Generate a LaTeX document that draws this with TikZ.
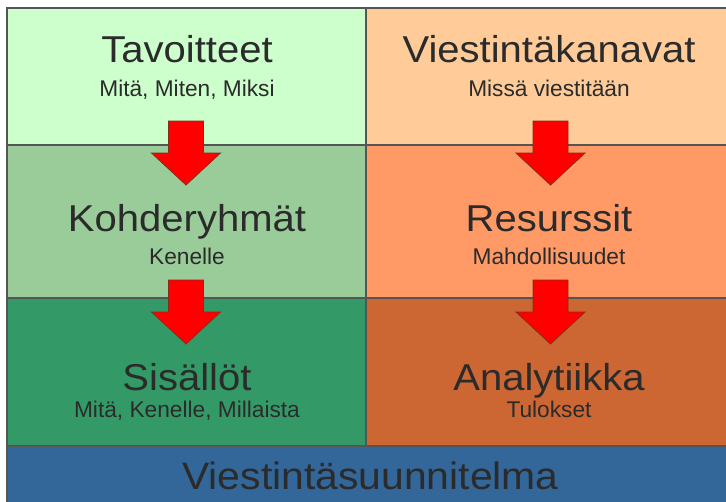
\documentclass[tikz,border=0pt]{standalone}
\usepackage{fontspec}
\setmainfont{Liberation Sans}
\newfontfamily\widesans[FakeStretch=1.07]{Liberation Sans}
\definecolor{greenA}{HTML}{CCFFCC}
\definecolor{greenB}{HTML}{99CC99}
\definecolor{greenC}{HTML}{339966}
\definecolor{orangeA}{HTML}{FFCC99}
\definecolor{orangeB}{HTML}{FF9966}
\definecolor{orangeC}{HTML}{CC6633}
\definecolor{planblue}{HTML}{336699}
\definecolor{gridline}{HTML}{555555}
\definecolor{ink}{HTML}{2B2B2B}
\definecolor{arrowedge}{HTML}{8A2A1A}
\begin{document}
\begin{tikzpicture}[x=1pt,y=-1pt,
  cell/.style={draw=gridline, line width=1.2pt},
  heading/.style={font=\widesans\fontsize{37.4}{37.4}\selectfont, text=ink, anchor=base, inner sep=0pt},
  subline/.style={font=\fontsize{22.7}{22.7}\selectfont, text=ink, anchor=base, inner sep=0pt},
  plan/.style={font=\widesans\fontsize{38.2}{38.2}\selectfont, text=ink, anchor=base, inner sep=0pt},
  flow/.style={fill=red, draw=arrowedge, line width=0.8pt, line join=miter},
  pics/downarrow/.style={code={
    \draw[flow] (-17.5,0) -- (17.5,0) -- (17.5,32) -- (34.5,32) -- (0,64)
      -- (-34.5,32) -- (-17.5,32) -- cycle;}},
]
\useasboundingbox (0,0) rectangle (726,501);
\fill[white] (0,0) rectangle (726,501);
\begin{scope}
\clip (0,0) rectangle (726,501);
% left column
\filldraw[cell, fill=greenA] (7,8) rectangle (366,145);
\filldraw[cell, fill=greenB] (7,145) rectangle (366,298);
\filldraw[cell, fill=greenC] (7,298) rectangle (366,446);
% right column
\filldraw[cell, fill=orangeA] (366,8) rectangle (734,145);
\filldraw[cell, fill=orangeB] (366,145) rectangle (734,298);
\filldraw[cell, fill=orangeC] (366,298) rectangle (734,446);
% bottom bar
\filldraw[cell, fill=planblue] (7,446) rectangle (734,512);

% flow arrows
\pic at (186,121) {downarrow};
\pic at (186,280) {downarrow};
\pic at (550.5,121) {downarrow};
\pic at (550.5,280) {downarrow};
\end{scope}

% texts
\node[heading] (tav) at (187,62) {Tavoitteet};
\node[subline] (tavs) at (187,96) {Mitä, Miten, Miksi};
\node[heading] (koh) at (187,231) {Kohderyhmät};
\node[subline] (kohs) at (187,264) {Kenelle};
\node[heading] (sis) at (187,390) {Sisällöt};
\node[subline] (siss) at (187,417) {Mitä, Kenelle, Millaista};

\node[heading] (vie) at (549,62) {Viestintäkanavat};
\node[subline] (vies) at (549,96) {Missä viestitään};
\node[heading] (res) at (549,231) {Resurssit};
\node[subline] (ress) at (549,264) {Mahdollisuudet};
\node[heading] (ana) at (549,390) {Analytiikka};
\node[subline] (anas) at (549,417) {Tulokset};

\node[plan] (plan) at (370.5,489) {Viestintäsuunnitelma};
\end{tikzpicture}
\end{document}
